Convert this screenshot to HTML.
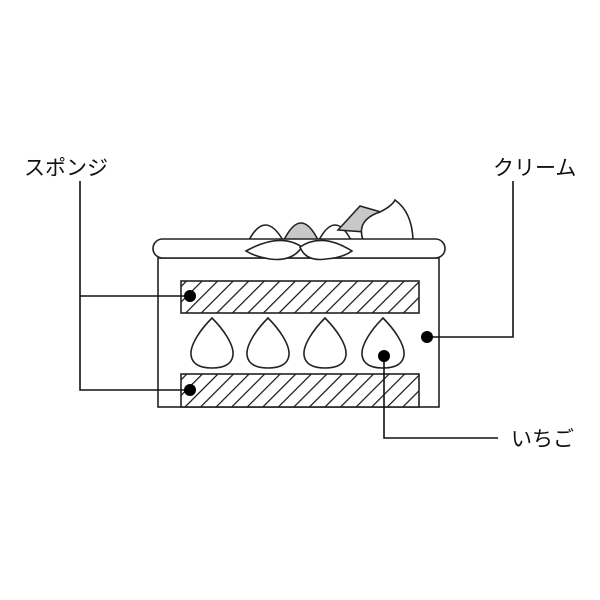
<!DOCTYPE html>
<html><head><meta charset="utf-8"><style>
html,body{margin:0;padding:0;background:#fff;}
svg{display:block;}
text{font-family:"Liberation Sans","Noto Sans CJK JP",sans-serif;font-size:21px;fill:#111;}
</style></head><body>
<svg width="600" height="600" viewBox="0 0 600 600" xmlns="http://www.w3.org/2000/svg">
<defs>
<pattern id="h" patternUnits="userSpaceOnUse" width="11" height="11" patternTransform="rotate(45)">
<rect width="11" height="11" fill="#fff"/>
<line x1="0" y1="0" x2="0" y2="11" stroke="#111" stroke-width="2.4"/>
</pattern>
</defs>
<g stroke="#222" stroke-width="1.6" fill="#fff">
<path d="M248 242 Q265 208 284 242 Z"/>
<path d="M283 242 Q301 204 319 242 Z" fill="#c8c8c8"/>
<path d="M318 242 Q335 208 352 242 Z"/>
<path d="M338 230 L360 206 L381 212 L366 232 Z" fill="#c8c8c8"/>
<path d="M363 240 Q356 220 380 212 Q392 206 395 200 Q412 212 413 240 Z"/>
<rect x="158" y="258" width="281" height="149"/>
<rect x="153" y="239" width="292" height="19" rx="9.5"/>
<path d="M246 251 Q280 232 302 247 Q292 262 270 259 Q256 257 246 251 Z"/>
<path d="M300 247 Q322 232 352 251 Q342 258 326 259 Q306 262 300 247 Z"/>
<rect x="181" y="281" width="238" height="32" fill="url(#h)"/>
<rect x="181" y="374" width="238" height="33" fill="url(#h)"/>
<path d="M212 318 C200 330 190 345 191 355 C192 364 200 368 212 368 C224 368 232 364 233 355 C234 345 224 330 212 318 Z"/>
<path d="M268 318 C256 330 246 345 247 355 C248 364 256 368 268 368 C280 368 288 364 289 355 C290 345 280 330 268 318 Z"/>
<path d="M325 318 C313 330 303 345 304 355 C305 364 313 368 325 368 C337 368 345 364 346 355 C347 345 337 330 325 318 Z"/>
<path d="M383 318 C371 330 361 345 362 355 C363 364 371 368 383 368 C395 368 403 364 404 355 C405 345 395 330 383 318 Z"/>
</g>
<g stroke="#111" stroke-width="1.6" fill="none">
<polyline points="80,181 80,390 190,390"/>
<line x1="80" y1="296" x2="190" y2="296"/>
<polyline points="427,337 513,337 513,181"/>
<polyline points="384,356 384,438 498,438"/>
</g>
<g fill="#000">
<circle cx="190" cy="296" r="6"/>
<circle cx="190" cy="390" r="6"/>
<circle cx="427" cy="337" r="6"/>
<circle cx="384" cy="356" r="6"/>
</g>
<text x="24" y="175">スポンジ</text>
<text x="493" y="175">クリーム</text>
<text x="511" y="446">いちご</text>
</svg>
</body></html>
